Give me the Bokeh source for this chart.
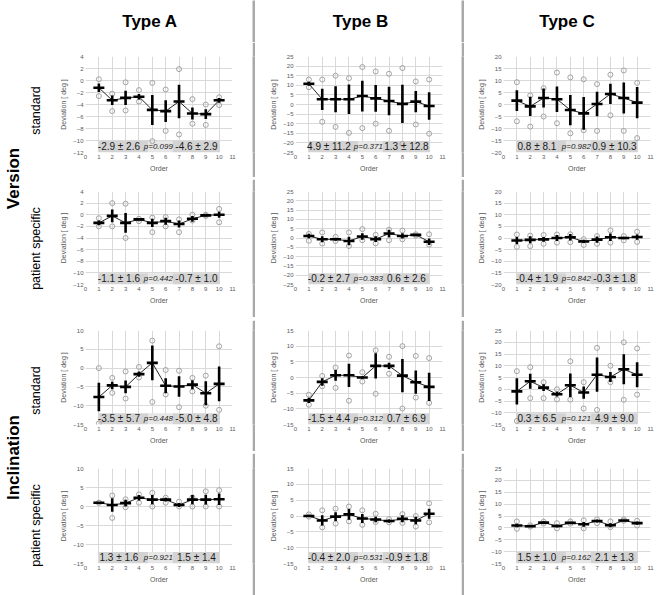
import math
from bokeh.plotting import figure
from bokeh.layouts import row, column
from bokeh.models import Range1d, FixedTicker, Label
from bokeh.core.properties import value
from bokeh.embed import file_html
from bokeh.resources import INLINE

# ---------------- data ----------------
order = [1, 2, 3, 4, 5, 6, 7, 8, 9, 10]
x_ticks = list(range(0, 12))

headers = ["Type A", "Type B", "Type C"]
groups = ["Version", "Inclination"]
subgroups = ["standard", "patient specific"]

# y axis (start, end, step) per column, for each group
version_axes = [(-12, 4, 2), (-25, 25, 5), (-20, 20, 5)]
inclination_axes = [(-15, 10, 5), (-15, 15, 5), (-15, 25, 5)]

# Version, standard
v_s_A_mean = [-1.2, -3.3, -2.9, -2.7, -4.9, -5.1, -3.5, -5.5, -5.6, -3.3]
v_s_A_sd = [0.7, 0.8, 1.2, 0.45, 2.5, 1.8, 2.8, 1.0, 0.8, 0.4]
v_s_A_max = [0.2, -2.2, -0.3, -1.6, -0.4, -1.5, 1.9, -3.1, -4.0, -2.8]
v_s_A_min = [-2.6, -5.1, -5.0, -3.5, -10.1, -8.4, -9.0, -7.2, -7.4, -4.1]
v_s_A_text = ["-2.9 ± 2.6", "p=0.099", "-4.6 ± 2.9"]

v_s_B_mean = [10.8, 2.7, 2.7, 2.7, 4.4, 3.2, 1.8, 0.3, 1.5, -0.8]
v_s_B_sd = [1.0, 5.5, 6.8, 7.7, 8.0, 7.0, 7.4, 10.0, 5.5, 7.2]
v_s_B_max = [13.0, 13.0, 15.0, 13.7, 19.5, 17.2, 16.0, 19.0, 12.0, 13.0]
v_s_B_min = [9.0, -9.0, -11.7, -14.8, -12.3, -10.0, -13.7, -20.5, -10.4, -15.2]
v_s_B_text = ["4.9 ± 11.2", "p=0.371", "1.3 ± 12.8"]

v_s_C_mean = [1.6, -0.8, 2.7, 2.2, -2.3, -3.7, 0.2, 4.4, 2.7, 0.8]
v_s_C_sd = [4.3, 4.0, 4.0, 5.3, 6.3, 6.8, 5.1, 4.2, 6.5, 6.5]
v_s_C_max = [9.3, 3.8, 6.8, 13.3, 11.3, 10.5, 8.5, 12.4, 14.2, 9.0]
v_s_C_min = [-7.0, -9.2, -5.0, -7.8, -12.0, -10.7, -11.0, -4.5, -11.0, -14.0]
v_s_C_text = ["0.8 ± 8.1", "p=0.982", "0.9 ± 10.3"]

# Version, patient specific
v_p_A_mean = [-1.4, -0.2, -1.4, -0.8, -1.4, -1.1, -1.6, -0.7, -0.1, 0.0]
v_p_A_sd = [0.4, 1.1, 1.7, 0.2, 0.7, 0.6, 0.6, 0.5, 0.2, 0.5]
v_p_A_max = [-0.6, 2.0, 1.9, -0.7, -0.5, -0.4, -0.8, 0.0, 0.0, 1.0]
v_p_A_min = [-2.0, -2.0, -4.0, -1.1, -3.0, -2.0, -3.0, -1.0, -0.2, -1.3]
v_p_A_text = ["-1.1 ± 1.6", "p=0.442", "-0.7 ± 1.0"]

v_p_B_mean = [1.1, -0.7, -0.7, -1.6, 0.8, -0.6, 2.4, 1.1, 1.7, -2.0]
v_p_B_sd = [1.2, 1.6, 0.8, 2.3, 1.8, 1.6, 2.0, 1.4, 0.4, 1.7]
v_p_B_max = [2.2, 3.0, 0.6, 3.0, 4.8, 1.7, 4.5, 4.0, 2.0, 2.0]
v_p_B_min = [-1.5, -3.0, -1.6, -4.3, -1.2, -2.9, -1.2, -0.7, 1.3, -3.6]
v_p_B_text = ["-0.2 ± 2.7", "p=0.383", "0.6 ± 2.6"]

v_p_C_mean = [-1.1, -0.8, -0.6, 0.0, 0.3, -1.5, -0.7, 0.3, 0.0, 0.4]
v_p_C_sd = [1.5, 1.5, 1.0, 1.3, 1.4, 0.7, 1.3, 1.6, 0.5, 1.1]
v_p_C_max = [1.5, 1.0, 1.3, 1.5, 1.6, -0.5, 0.8, 3.3, 0.8, 2.7]
v_p_C_min = [-3.8, -3.5, -2.5, -2.0, -1.8, -3.0, -2.5, -2.0, -1.0, -1.7]
v_p_C_text = ["-0.4 ± 1.9", "p=0.842", "-0.3 ± 1.8"]

# Inclination, standard
i_s_A_mean = [-7.7, -4.6, -5.0, -1.6, 1.4, -4.7, -4.9, -4.4, -6.7, -4.2]
i_s_A_sd = [3.8, 1.0, 1.7, 0.7, 4.6, 2.0, 2.7, 1.2, 3.2, 4.6]
i_s_A_max = [0.0, -2.6, -0.9, 0.3, 7.3, -0.5, -0.7, -2.6, -2.0, 5.8]
i_s_A_min = [-14.7, -6.6, -8.1, -2.5, -9.0, -7.0, -10.4, -6.2, -10.0, -11.1]
i_s_A_text = ["-3.5 ± 5.7", "p=0.448", "-5.0 ± 4.8"]

i_s_B_mean = [-7.3, -1.4, 0.7, 0.7, 0.0, 3.7, 3.7, 0.6, -1.5, -3.0]
i_s_B_sd = [0.8, 1.2, 1.7, 3.7, 0.4, 4.0, 1.0, 5.3, 3.7, 4.5]
i_s_B_max = [-5.5, 0.5, 3.2, 7.0, 1.7, 8.7, 6.6, 10.0, 6.9, 6.2]
i_s_B_min = [-8.7, -2.8, -3.3, -7.4, -1.3, -5.2, 1.2, -9.9, -6.4, -8.1]
i_s_B_text = ["-1.5 ± 4.4", "p=0.312", "0.7 ± 6.9"]

i_s_C_mean = [-0.9, 3.4, 0.7, -2.1, 1.7, -1.4, 6.2, 5.2, 8.5, 6.2]
i_s_C_sd = [5.6, 3.2, 1.4, 1.0, 5.0, 2.6, 7.3, 2.1, 6.4, 5.3]
i_s_C_max = [7.7, 9.4, 3.0, 0.0, 11.9, 3.0, 17.6, 10.0, 20.0, 17.4]
i_s_C_min = [-13.5, -3.8, -3.8, -4.3, -4.4, -8.2, -8.8, 3.0, -4.5, -2.3]
i_s_C_text = ["0.3 ± 6.5", "p=0.121", "4.9 ± 9.0"]

# Inclination, patient specific
i_p_A_mean = [1.0, 0.4, 0.9, 2.3, 1.8, 1.8, 0.4, 1.8, 1.8, 1.9]
i_p_A_sd = [0.1, 1.8, 0.9, 0.7, 1.2, 0.5, 0.5, 1.2, 1.3, 1.5]
i_p_A_max = [1.0, 2.9, 1.9, 3.2, 3.6, 2.3, 1.3, 2.4, 4.0, 4.3]
i_p_A_min = [1.0, -3.0, -0.2, 1.0, 0.0, 1.0, 0.0, 0.0, 0.0, 0.0]
i_p_A_text = ["1.3 ± 1.6", "p=0.921", "1.5 ± 1.4"]

i_p_B_mean = [0.0, -1.4, -0.2, 0.5, -0.8, -1.1, -1.6, -0.9, -1.4, 0.7]
i_p_B_sd = [0.3, 1.6, 1.4, 1.7, 1.4, 0.9, 0.5, 1.1, 1.2, 1.6]
i_p_B_max = [0.5, 1.8, 2.3, 3.0, 1.8, 0.7, -1.0, 0.6, 0.0, 4.0]
i_p_B_min = [-0.2, -3.6, -2.4, -1.7, -2.8, -1.9, -2.0, -2.2, -3.3, -2.0]
i_p_B_text = ["-0.4 ± 2.0", "p=0.531", "-0.9 ± 1.8"]

i_p_C_mean = [1.0, 0.7, 2.2, 0.8, 2.1, 1.5, 2.9, 1.1, 3.1, 2.0]
i_p_C_sd = [0.7, 0.3, 0.5, 0.6, 0.4, 1.0, 0.6, 0.8, 0.3, 0.7]
i_p_C_max = [2.7, 1.1, 2.6, 2.0, 2.7, 3.2, 3.6, 2.7, 3.6, 3.0]
i_p_C_min = [-0.4, 0.5, 1.8, -0.2, 1.8, -0.2, 2.0, 0.3, 3.0, 1.0]
i_p_C_text = ["1.5 ± 1.0", "p=0.162", "2.1 ± 1.3"]

# ---------------- styling ----------------
FONT = "Liberation Sans"
GRID = "#d9d9d9"
AXIS_TXT = "#595959"
SEP_THICK = "#a9a9a9"
SEP_THIN = "#c4c4c4"

COL_W = [201, 206, 205]                    # canvas widths of the three type columns
COL_PAD = [(34, 20), (40, 19), (39, 19)]   # left / right borders around each frame
LABEL_W = 51
VSEP_W = 3


def blank(w, h, fill="white", xr=(0, 1), yr=(0, 1)):
    f = figure(width=w, height=h, x_range=Range1d(*xr), y_range=Range1d(*yr),
               output_backend="svg", toolbar_location=None,
               x_axis_location=None, y_axis_location=None, min_border=0)
    f.grid.visible = False
    f.outline_line_color = None
    f.background_fill_color = fill
    f.border_fill_color = fill
    return f


def panel(mean, sd, vmax, vmin, text, yax, w, h, pad_lr, pad_tb):
    y0, y1, step = yax
    p = figure(width=w, height=h, x_range=Range1d(0, 11), y_range=Range1d(y0, y1),
               output_backend="svg", toolbar_location=None,
               min_border_left=pad_lr[0], min_border_right=pad_lr[1],
               min_border_top=pad_tb[0], min_border_bottom=pad_tb[1])
    p.outline_line_color = None
    p.background_fill_color = "white"
    p.border_fill_color = "white"
    p.xaxis.ticker = FixedTicker(ticks=x_ticks)
    p.yaxis.ticker = FixedTicker(ticks=list(range(y0, y1 + 1, step)))
    p.xaxis.axis_label = "Order"
    p.yaxis.axis_label = "Deviation [ deg ]"
    for ax in (p.xaxis[0], p.yaxis[0]):
        ax.axis_line_color = None
        ax.major_tick_line_color = None
        ax.minor_tick_line_color = None
        ax.major_tick_out = 0
        ax.major_tick_in = 0
        ax.minor_tick_out = 0
        ax.minor_tick_in = 0
        ax.major_label_text_font = FONT
        ax.major_label_text_font_size = "6px"
        ax.major_label_text_color = AXIS_TXT
        ax.axis_label_text_font = FONT
        ax.axis_label_text_font_size = "7px"
        ax.axis_label_text_font_style = "normal"
        ax.axis_label_text_color = AXIS_TXT
        ax.major_label_standoff = 2
        ax.axis_label_standoff = 3
    p.grid.grid_line_color = GRID
    p.grid.grid_line_width = 1

    # summary boxes along the bottom of the frame
    span = y1 - y0
    top = y0 + 0.12 * span
    p.quad(left=[1, 6.5], right=[4.7, 10], bottom=y0, top=top,
           fill_color="#d3d3d3", line_color=None)
    p.quad(left=[4.7], right=[6.5], bottom=y0, top=top,
           fill_color="#e6e6e6", line_color=None)

    # individual measurements
    p.scatter(order, vmax, marker="circle", size=5, fill_color=None,
              line_color="#a3a3a3", line_width=1)
    p.scatter(order, vmin, marker="circle", size=5, fill_color=None,
              line_color="#a3a3a3", line_width=1)

    # mean line, SD bars and mean markers
    lo = [m - s for m, s in zip(mean, sd)]
    hi = [m + s for m, s in zip(mean, sd)]
    p.line(order, mean, line_color="#262626", line_width=1)
    p.segment(x0=order, y0=lo, x1=order, y1=hi, line_color="black", line_width=2.6)
    p.scatter(order, mean, marker="dash", size=11, line_color="black", line_width=2.6)

    ymid = y0 + 0.06 * span
    for x, t, size, style in ((2.5, text[0], "10px", "normal"),
                              (5.45, text[1], "8px", "italic"),
                              (8.3, text[2], "10px", "normal")):
        p.add_layout(Label(x=x, y=ymid, text=t, text_align="center",
                           text_baseline="middle", text_font=FONT,
                           text_font_size=size, text_font_style=style,
                           text_color="#1a1a1a"))
    return p


def header(w, t, xc):
    f = blank(w, 42)
    f.text(x=[xc], y=[0.5], text=[t], text_align="center", text_baseline="middle",
           text_font=value(FONT), text_font_size="17px", text_font_style="bold",
           text_color="black")
    return f


def side_labels(h, big, y_big, y_sub):
    f = blank(LABEL_W, h, xr=(0, LABEL_W), yr=(h, 0))
    f.text(x=[13], y=[y_big], text=[big], angle=math.pi / 2, text_align="center",
           text_baseline="middle", text_font=value(FONT), text_font_size="17px",
           text_font_style="bold", text_color="black")
    f.text(x=[35, 35], y=y_sub, text=subgroups, angle=math.pi / 2, text_align="center",
           text_baseline="middle", text_font=value(FONT), text_font_size="12.5px",
           text_color="black")
    return f


def vsep(h):
    return blank(VSEP_W, h, fill=SEP_THICK)


def thin_row():
    return row(blank(COL_W[0], 2, fill=SEP_THIN), vsep(2),
               blank(COL_W[1], 2, fill=SEP_THIN), vsep(2),
               blank(COL_W[2], 2, fill=SEP_THIN))


def panel_row(series, axes, h, pad_tb):
    figs = []
    for i, (m, s, mx, mn, t) in enumerate(series):
        figs.append(panel(m, s, mx, mn, t, axes[i], COL_W[i], h, COL_PAD[i], pad_tb))
        if i < 2:
            figs.append(vsep(h))
    return row(*figs)


v_std = [(v_s_A_mean, v_s_A_sd, v_s_A_max, v_s_A_min, v_s_A_text),
         (v_s_B_mean, v_s_B_sd, v_s_B_max, v_s_B_min, v_s_B_text),
         (v_s_C_mean, v_s_C_sd, v_s_C_max, v_s_C_min, v_s_C_text)]
v_pat = [(v_p_A_mean, v_p_A_sd, v_p_A_max, v_p_A_min, v_p_A_text),
         (v_p_B_mean, v_p_B_sd, v_p_B_max, v_p_B_min, v_p_B_text),
         (v_p_C_mean, v_p_C_sd, v_p_C_max, v_p_C_min, v_p_C_text)]
i_std = [(i_s_A_mean, i_s_A_sd, i_s_A_max, i_s_A_min, i_s_A_text),
         (i_s_B_mean, i_s_B_sd, i_s_B_max, i_s_B_min, i_s_B_text),
         (i_s_C_mean, i_s_C_sd, i_s_C_max, i_s_C_min, i_s_C_text)]
i_pat = [(i_p_A_mean, i_p_A_sd, i_p_A_max, i_p_A_min, i_p_A_text),
         (i_p_B_mean, i_p_B_sd, i_p_B_max, i_p_B_min, i_p_B_text),
         (i_p_C_mean, i_p_C_sd, i_p_C_max, i_p_C_min, i_p_C_text)]

top_row = row(blank(LABEL_W, 42),
              header(COL_W[0], headers[0], 0.49), vsep(42),
              header(COL_W[1], headers[1], 0.51), vsep(42),
              header(COL_W[2], headers[2], 0.5))

version_block = row(
    side_labels(275, groups[0], 136, [68, 206]),
    column(panel_row(v_std, version_axes, 135, (14, 25)),
           thin_row(),
           panel_row(v_pat, version_axes, 138, (12, 33))),
)

inclination_block = row(
    side_labels(275, groups[1], 137, [70, 205]),
    column(panel_row(i_std, inclination_axes, 131, (10, 27)),
           thin_row(),
           panel_row(i_pat, inclination_axes, 142, (15, 32))),
)

layout = column(top_row, version_block, blank(669, 3, fill=SEP_THICK), inclination_block)

open("out.html", "w").write(file_html(layout, INLINE))
